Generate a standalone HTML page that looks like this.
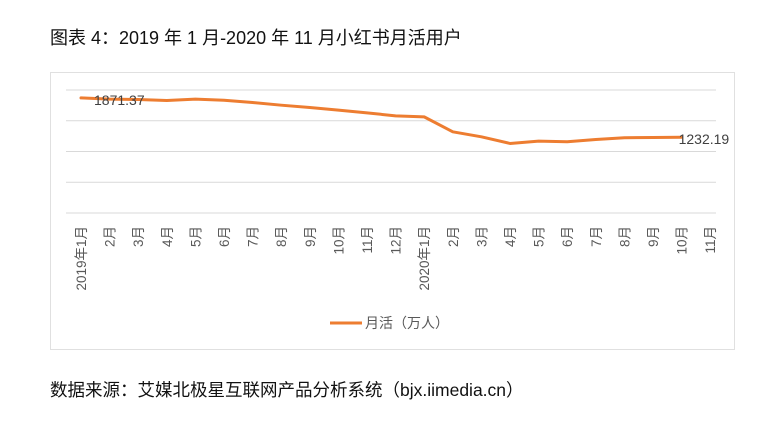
<!DOCTYPE html>
<html><head><meta charset="utf-8"><style>
body{margin:0;width:782px;height:432px;background:#fff;font-family:"Liberation Sans","Noto Sans CJK SC",sans-serif;position:relative;overflow:hidden}
.t{position:absolute;left:50px;top:24px;font-size:18px;color:#111;white-space:nowrap}
.s{position:absolute;left:50px;top:377px;font-size:17.5px;color:#111;white-space:nowrap}
.box{position:absolute;left:50px;top:72px;width:685px;height:278px;border:1px solid #e0e0e0;box-sizing:border-box}
svg{position:absolute;left:0;top:0}
</style></head><body>
<div class="t">图表 4：2019 年 1 月-2020 年 11 月小红书月活用户</div>
<div class="box"></div>
<svg id="c" width="782" height="432"></svg>
<div class="s">数据来源：艾媒北极星互联网产品分析系统（bjx.iimedia.cn）</div>
<script>
const categories=["2019年1月","2月","3月","4月","5月","6月","7月","8月","9月","10月","11月","12月","2020年1月","2月","3月","4月","5月","6月","7月","8月","9月","10月","11月"];
const values=[1871.37,1851,1845,1829,1851,1834,1797,1753,1716,1672,1628,1580,1563,1320,1239,1131,1169,1158,1196,1223,1228,1232.19];
const ticks=[0,500,1000,1500,2000];
const NS="http://www.w3.org/2000/svg",svg=document.getElementById('c');
const x0=81,dx=28.6,yb=213,yt=90,ymax=2000;
const X=i=>x0+i*dx, Y=v=>yb-(v/ymax)*(yb-yt);
function mk(t,a){const e=document.createElementNS(NS,t);for(const k in a)e.setAttribute(k,a[k]);svg.appendChild(e);return e;}
ticks.forEach(v=>{const l=mk('line',{x1:66,x2:716,y1:Y(v),y2:Y(v),stroke:'#d9d9d9','stroke-width':1});

});
categories.forEach((c,i)=>{const t=mk('text',{transform:`translate(${X(i)+5},226) rotate(-90)`,'text-anchor':'end','font-size':13.5,fill:'#595959'});t.textContent=c;

});
const p=mk('polyline',{points:values.map((v,i)=>X(i)+','+Y(v)).join(' '),fill:'none',stroke:'#ed7d31','stroke-width':3,'stroke-linejoin':'round','stroke-linecap':'round'});


const l1=mk('text',{x:X(0)+13,y:Y(values[0])+7,'font-size':14,fill:'#404040'});l1.textContent=values[0].toFixed(2);


const n=values.length-1;
const l2=mk('text',{x:X(n)-3,y:Y(values[n])+7,'font-size':14,fill:'#404040'});l2.textContent=values[n].toFixed(2);


const lg=mk('line',{x1:330,x2:362,y1:323,y2:323,stroke:'#ed7d31','stroke-width':3});


const lt=mk('text',{x:365,y:328,'font-size':14,fill:'#595959'});lt.textContent='月活（万人）';


</script>
</body></html>
